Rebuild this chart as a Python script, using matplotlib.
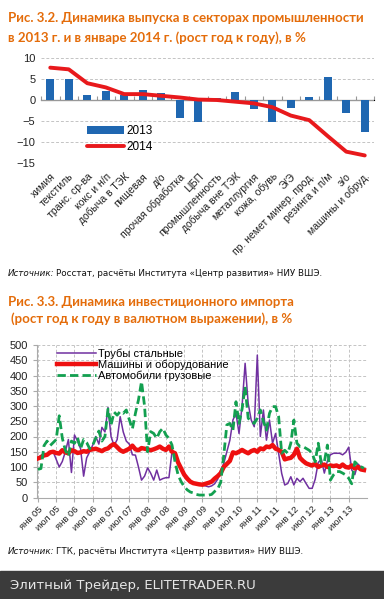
import numpy as np
import matplotlib.pyplot as plt
from matplotlib.patches import Rectangle

# ---- data, chart 3.2 ----
sectors = ["химия", "текстиль", "транс. ср-ва", "кокс и н/п", "добыча в ТЭК",
           "пищевая", "д/о", "прочая обработка", "ЦБП", "промышленность",
           "добыча вне ТЭК", "металлургия", "кожа, обувь", "Э/Э",
           "пр. немет минер. прод.", "резинга и п/м", "э/о", "машины и обруд."]
growth_2013 = [5.0, 5.0, 1.2, 2.2, 1.3, 2.5, 1.6, -4.2, -5.2, 0.5,
               2.0, -2.2, -5.2, -1.8, 0.7, 5.5, -3.0, -7.7]
growth_2014 = [7.7, 7.3, 4.0, 3.0, 1.4, 1.4, 1.0, 0.6, 0.1, 0.0,
               -0.4, -0.8, -1.7, -3.7, -4.8, -8.6, -12.3, -13.2]

# ---- data, chart 3.3 (monthly, Jan 2005 - Dec 2013) ----
pipes = [130, 138, 142, 138, 145, 150, 125, 100, 118, 150, 190, 82,
         205, 185, 160, 70, 130, 150, 172, 200, 175, 230, 215, 295,
         200, 170, 190, 265, 215, 185, 175, 140, 139, 100, 57, 70,
         97, 80, 57, 90, 57, 62, 65, 65, 150, 140, 110, 90,
         75, 68, 55, 48, 44, 42, 40, 38, 35, 38, 45, 60,
         90, 112, 150, 188, 254, 276, 210, 300, 440, 309, 254, 232,
         467, 200, 287, 188, 254, 178, 210, 145, 79, 41, 46, 68,
         41, 63, 52, 63, 46, 30, 30, 60, 115, 125, 80, 120,
         140, 145, 145, 145, 140, 148, 165, 90, 75, 110, 100, 95]
machines = [128, 132, 138, 140, 148, 150, 146, 144, 155, 148, 145, 155,
            152, 146, 148, 152, 150, 156, 158, 160, 156, 152, 158, 161,
            170, 175, 165, 155, 150, 155, 160, 170, 158, 155, 162, 160,
            158, 155, 158, 162, 167, 160, 156, 167, 150, 145, 115, 95,
            75, 62, 52, 47, 45, 43, 42, 45, 48, 52, 62, 70,
            80, 100, 110, 120, 148, 145, 150, 156, 150, 145, 152, 156,
            150, 161, 158, 167, 165, 172, 160, 156, 150, 125, 128, 130,
            140, 160, 130, 120, 112, 108, 105, 110, 100, 105, 108, 100,
            105, 103, 105, 100, 108, 100, 98, 105, 95, 100, 92, 90]
trucks = [92, 95, 170, 185, 170, 180, 190, 268, 195, 155, 135, 185,
          178, 196, 160, 190, 180, 160, 172, 195, 218, 185, 200, 290,
          238, 280, 270, 282, 276, 287, 255, 225, 276, 320, 380, 300,
          150, 216, 210, 194, 216, 227, 205, 194, 172, 117, 74, 52,
          36, 25, 18, 15, 10, 8, 8, 8, 8, 10, 20, 28,
          50, 139, 238, 243, 220, 314, 243, 290, 363, 260, 250, 243,
          260, 287, 250, 221, 276, 298, 298, 265, 145, 155, 145, 178,
          254, 178, 167, 167, 161, 155, 145, 117, 178, 112, 117, 172,
          57, 74, 85, 85, 80, 74, 63, 45, 117, 107, 101, 96]
month_labels = ["янв 05", "июл 05", "янв 06", "июл 06", "янв 07", "июл 07",
                "янв 08", "июл 08", "янв 09", "июл 09", "янв 10", "июл 10",
                "янв 11", "июл 11", "янв 12", "июл 12", "янв 13", "июл 13"]

ORANGE = "#E46C0A"
GRID = "#c4c4c4"
W, H = 384, 599

fig = plt.figure(figsize=(W / 100, H / 100), dpi=100)
renderer = fig.canvas.get_renderer()


def source_line(y_px, rest):
    t = fig.text(8 / W, 1 - y_px / H, "Источник:", fontsize=6.3, style="italic",
                 va="center", color="#111")
    bb = t.get_window_extent(renderer)
    fig.text((bb.x1 + 1) / W, 1 - y_px / H, rest, fontsize=6.3, va="center",
             color="#111")


def title(x_px, y_px, s):
    fig.text(x_px / W, 1 - y_px / H, s, color=ORANGE, fontsize=9.5,
             fontweight="bold", family="Lato", va="center")


title(8, 18, "Рис. 3.2. Динамика выпуска в секторах промышленности")
title(8, 38, "в 2013 г. и в январе 2014 г. (рост год к году), в %")

# ---- chart 3.2 ----
ax1 = fig.add_axes([41 / W, 1 - 163 / H, (374 - 41) / W, (163 - 58) / H])
x = np.arange(len(sectors))
b = ax1.bar(x, growth_2013, width=0.42, color="#1f67b1", label="2013", zorder=3)
ln, = ax1.plot(x, growth_2014, color="#e8191c", lw=2.8, label="2014", zorder=4,
               solid_capstyle="round")
ax1.set_xlim(-0.5, len(sectors) - 0.5)
ax1.set_ylim(-15, 10)
ax1.set_yticks([-15, -10, -5, 0, 5, 10])
ax1.yaxis.grid(True, linestyle=(0, (3, 2)), color=GRID, lw=0.7)
ax1.set_axisbelow(True)
for s in ax1.spines.values():
    s.set_visible(False)
ax1.tick_params(axis="y", length=0, labelsize=8, pad=4, labelcolor="#222")
ax1.set_xticks(x)
ax1.set_xticklabels(sectors, rotation=45, ha="right", rotation_mode="anchor",
                    fontsize=7.5, family="Liberation Sans", color="#222")
ax1.tick_params(axis="x", length=0, pad=6)
ax1.axhline(0, color="#999", lw=0.8, zorder=2)
sec = ax1.secondary_xaxis(0.6)
sec.set_xticks(np.arange(-0.5, len(sectors), 1.0))
sec.set_xticklabels([])
sec.tick_params(length=3, color="#999", width=0.8)
sec.spines["bottom"].set_visible(False)
for lab in ax1.get_yticklabels():
    lab.set_family("Liberation Sans")
ax1.legend([b, ln], ["2013", "2014"], loc="lower left",
           bbox_to_anchor=(0.105, -0.01), frameon=False,
           handlelength=3.2, handletextpad=0.2, labelspacing=0.35,
           prop={"family": "Liberation Sans", "size": 8.5})

source_line(273, "Росстат, расчёты Института «Центр развития» НИУ ВШЭ.")

# ---- chart 3.3 ----
title(8, 302, "Рис. 3.3. Динамика инвестиционного импорта")
title(11, 319, "(рост год к году в валютном выражении), в %")

ax2 = fig.add_axes([37 / W, 1 - 497.5 / H, (367 - 37) / W, (497.5 - 345) / H])
m = np.arange(len(machines))
ax2.plot(m, pipes, color="#7030a0", lw=1.1, label="Трубы стальные", zorder=3)
ax2.plot(m, machines, color="#ee1010", lw=3.2, label="Машины и оборудование", zorder=4)
ax2.plot(m, trucks, color="#13a050", lw=2.0, ls=(0, (3, 1.5)),
         label="Автомобили грузовые", zorder=5)
ax2.set_xlim(-0.3, 108)
ax2.set_ylim(0, 500)
ax2.set_yticks(np.arange(0, 501, 50))
ax2.set_xticks(np.arange(0, 108, 6))
ax2.set_xticklabels(month_labels, rotation=45, ha="right", rotation_mode="anchor",
                    fontsize=6.8, family="Liberation Sans", color="#222")
ax2.grid(True, linestyle=(0, (3, 2)), color=GRID, lw=0.7)
ax2.set_axisbelow(True)
for k in ["top", "right"]:
    ax2.spines[k].set_visible(False)
ax2.spines["left"].set_color("#aaa")
ax2.spines["bottom"].set_color("#aaa")
ax2.tick_params(axis="x", length=3, color="#aaa", pad=2)
ax2.tick_params(axis="y", length=3, color="#aaa", labelsize=8, labelcolor="#222")
for lab in ax2.get_yticklabels():
    lab.set_family("Liberation Sans")
ax2.legend(loc="upper left", bbox_to_anchor=(0.03, 1.04), frameon=False,
           handlelength=3.5, handletextpad=0.2, labelspacing=0.05,
           prop={"family": "Liberation Sans", "size": 8})

source_line(551, "ГТК, расчёты Института «Центр развития» НИУ ВШЭ.")

# footer band
fig.add_artist(Rectangle((0, 0), 1, (H - 571) / H, transform=fig.transFigure,
                         color="#3b3b3b", zorder=0))
fig.text(10 / W, 1 - 585 / H, "Элитный Трейдер, ELITETRADER.RU", color="#e6e6e6",
         fontsize=9.5, va="center")

fig.savefig("out.png", dpi=100)
